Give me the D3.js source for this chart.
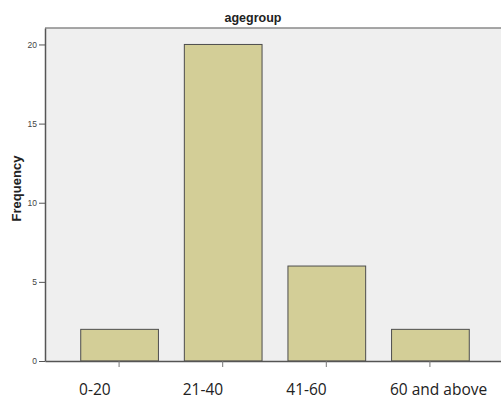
<!DOCTYPE html>
<html><head><meta charset="utf-8">
<script src="https://cdn.jsdelivr.net/npm/d3@7"></script>
<style>html,body{margin:0;background:#fff;overflow:hidden;} svg{display:block;overflow:hidden;}</style>
</head><body>
<svg id="c" width="501" height="400"></svg>
<script>
const categories = ["0-20", "21-40", "41-60", "60 and above"];
const frequency = [2, 20, 6, 2];
const yTicks = [0, 5, 10, 15, 20];
const title = "agegroup";
const yLabel = "Frequency";

(function () {
const svg = d3.select("#c");
const mLeft = 45, mTop = 28, mBottom = 361, mRight = 504;

const x = d3.scaleBand().domain(categories).range([mLeft, mRight]).paddingInner(0.25).paddingOuter(0.34);
const y = d3.scaleLinear().domain([0, 21.04]).range([mBottom, mTop]);

svg.append("rect").attr("x", mLeft).attr("y", mTop).attr("width", 540 - mLeft).attr("height", mBottom - mTop)
  .attr("fill", "#efefef");
svg.append("line").attr("x1", mLeft).attr("x2", 540).attr("y1", mTop).attr("y2", mTop)
  .attr("stroke", "#8a8a8a").attr("stroke-width", 1.5);

svg.selectAll("rect.bar").data(frequency).join("rect").attr("class", "bar")
  .attr("x", (d, i) => x(categories[i]) + 0.5)
  .attr("y", d => y(d))
  .attr("width", x.bandwidth())
  .attr("height", d => y(0) - y(d))
  .attr("fill", "#d3ce97").attr("stroke", "#4d4d4d").attr("stroke-width", 1);

const ya = svg.append("g").attr("transform", `translate(${mLeft},0)`)
  .call(d3.axisLeft(y).tickValues(yTicks).tickSize(6).tickSizeOuter(0).tickPadding(2));
ya.select(".domain").attr("stroke", "#555").attr("stroke-width", 1.5);
ya.selectAll(".tick line").attr("stroke", "#555");
ya.selectAll("text").attr("font-family", "Liberation Sans, Arial, sans-serif").attr("font-size", 8.5).attr("fill", "#444");

const xa = svg.append("g").attr("transform", `translate(0,${mBottom})`)
  .call(d3.axisBottom(x).tickSize(6).tickSizeOuter(0).tickFormat(""));
xa.select(".domain").attr("stroke", "#555").attr("stroke-width", 1.5);
xa.selectAll(".tick line").attr("stroke", "#777");

svg.selectAll("text.cat").data(categories).join("text").attr("class", "cat")
  .attr("x", d => x(d) + x.bandwidth() / 2 - 40)
  .attr("y", 395)
  .attr("text-anchor", "start")
  .attr("font-family", "Open Sans, sans-serif").attr("font-size", 15.5).attr("fill", "#222")
  .text(d => d);

svg.append("text").attr("x", 253).attr("y", 22).attr("text-anchor", "middle")
  .attr("font-family", "Liberation Sans, Arial, sans-serif").attr("font-weight", "bold").attr("font-size", 12.5).attr("fill", "#222")
  .text(title);

svg.append("text").attr("transform", `translate(21,${(mTop + mBottom) / 2 - 6}) rotate(-90)`).attr("text-anchor", "middle")
  .attr("font-family", "Liberation Sans, Arial, sans-serif").attr("font-weight", "bold").attr("font-size", 13).attr("fill", "#222")
  .text(yLabel);
})();
</script>
</body></html>
